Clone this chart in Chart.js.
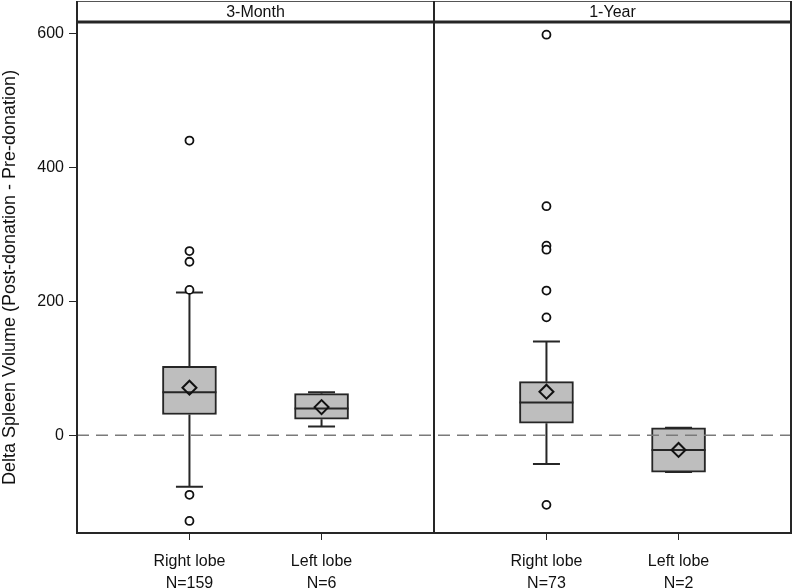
<!DOCTYPE html>
<html>
<head>
<meta charset="utf-8">
<script src="https://cdn.jsdelivr.net/npm/chart.js@4.4.0/dist/chart.umd.min.js"></script>
<style>
  html, body { margin: 0; padding: 0; background: #fff; }
  #wrap { width: 800px; height: 588px; }
</style>
</head>
<body>
<div id="wrap"><canvas id="c" width="800" height="588"></canvas></div>
<script>
// ---- data ----
const panelTitles = ['3-Month', '1-Year'];
const xPos = [0.315, 0.685, 1.315, 1.685];
const xLabels = [['Right lobe', 'N=159'], ['Left lobe', 'N=6'], ['Right lobe', 'N=73'], ['Left lobe', 'N=2']];
const q1 = [31, 24, 18, -55];
const median = [64, 40, 49, -22];
const q3 = [103, 62, 80, 11];
const whiskerLow = [-77, 13, -43, -55];
const whiskerHigh = [213, 64, 140, 11];
const mean = [71, 42, 65, -22];
const outliers = [
  [440, 275, 259, 217, -89, -128],
  [],
  [598, 342, 283, 277, 216, 176, -104],
  []
];
const yTicks = [0, 200, 400, 600];
const yMin = -146, yMax = 617;
const yTitle = 'Delta Spleen Volume (Post-donation - Pre-donation)';

const FONT = "'Liberation Sans', Arial, sans-serif";
const INK = '#262626';

const boxData = xPos.map((x, i) => ({ x: x, y: [q1[i], q3[i]] }));
const outlierData = [];
outliers.forEach((arr, i) => arr.forEach(v => outlierData.push({ x: xPos[i], y: v })));
const meanData = xPos.map((x, i) => ({ x: x, y: mean[i] }));

const boxPlugin = {
  id: 'boxParts',
  afterDatasetDraw(chart, args) {
    if (args.index !== 0) return;
    const ctx = chart.ctx;
    const xs = chart.scales.x, ys = chart.scales.y;
    ctx.save();
    ctx.strokeStyle = INK;
    ctx.lineWidth = 2;
    const capHalf = 13.5, boxHalf = 27;
    xPos.forEach((xv, i) => {
      const px = xs.getPixelForValue(xv);
      const yq1 = ys.getPixelForValue(q1[i]);
      const yq3 = ys.getPixelForValue(q3[i]);
      const ylo = ys.getPixelForValue(whiskerLow[i]);
      const yhi = ys.getPixelForValue(whiskerHigh[i]);
      const ymed = ys.getPixelForValue(median[i]);
      ctx.beginPath();
      ctx.moveTo(px, yq3); ctx.lineTo(px, yhi);
      ctx.moveTo(px - capHalf, yhi); ctx.lineTo(px + capHalf, yhi);
      ctx.moveTo(px, yq1); ctx.lineTo(px, ylo);
      ctx.moveTo(px - capHalf, ylo); ctx.lineTo(px + capHalf, ylo);
      ctx.moveTo(px - boxHalf, ymed); ctx.lineTo(px + boxHalf, ymed);
      ctx.stroke();
    });
    ctx.restore();
  },
  afterDraw(chart) {
    const ctx = chart.ctx;
    const a = chart.chartArea;
    const xs = chart.scales.x;
    const mid = xs.getPixelForValue(1);
    ctx.save();
    // header box
    ctx.fillStyle = '#fff';
    ctx.fillRect(a.left, 1, a.right - a.left, a.top - 1);
    ctx.strokeStyle = '#555';
    ctx.lineWidth = 1;
    ctx.strokeRect(a.left + 0.5, 1.5, a.right - a.left - 1, a.top - 1.5);
    // frame
    ctx.strokeStyle = INK;
    ctx.lineWidth = 2;
    ctx.beginPath();
    ctx.moveTo(a.left, 1); ctx.lineTo(a.left, a.bottom);
    ctx.lineTo(a.right, a.bottom); ctx.lineTo(a.right, 1);
    ctx.moveTo(mid, 1); ctx.lineTo(mid, a.bottom);
    ctx.stroke();
    ctx.lineWidth = 3;
    ctx.beginPath();
    ctx.moveTo(a.left, a.top); ctx.lineTo(a.right, a.top);
    ctx.stroke();
    // titles
    ctx.fillStyle = '#111';
    ctx.font = '16px ' + FONT;
    ctx.textAlign = 'center';
    ctx.textBaseline = 'middle';
    ctx.fillText(panelTitles[0], (a.left + mid) / 2, 12.5);
    ctx.fillText(panelTitles[1], (mid + a.right) / 2, 12.5);
    ctx.restore();
  }
};

new Chart(document.getElementById('c'), {
  type: 'bar',
  data: {
    datasets: [
      {
        type: 'bar',
        data: boxData,
        backgroundColor: '#bebebe',
        borderColor: INK,
        borderWidth: 2,
        borderSkipped: false,
        barThickness: 54,
        grouped: false,
        order: 3
      },
      {
        type: 'line',
        data: [{ x: 0, y: 0 }, { x: 2, y: 0 }],
        borderColor: '#7a7a7a',
        borderWidth: 1.5,
        borderDash: [12, 7],
        pointRadius: 0,
        fill: false,
        order: 2
      },
      {
        type: 'scatter',
        data: outlierData,
        pointStyle: 'circle',
        pointRadius: 4,
        pointBackgroundColor: '#fff',
        pointBorderColor: '#111',
        pointBorderWidth: 1.8,
        order: 1
      },
      {
        type: 'scatter',
        data: meanData,
        pointStyle: 'rectRot',
        pointRadius: 7,
        pointBackgroundColor: 'rgba(0,0,0,0)',
        pointBorderColor: '#111',
        pointBorderWidth: 2,
        order: 0
      }
    ]
  },
  options: {
    responsive: false,
    animation: false,
    layout: { padding: { top: 22, right: 2, left: 0, bottom: 0 } },
    plugins: { legend: { display: false }, tooltip: { enabled: false } },
    scales: {
      x: {
        type: 'linear',
        min: 0,
        max: 2,
        offset: false,
        afterBuildTicks: s => { s.ticks = xPos.map(v => ({ value: v })); },
        afterFit: s => { s.height = 55; },
        grid: { drawOnChartArea: false, drawTicks: true, tickLength: 7, color: INK, lineWidth: 1, offset: false },
        border: { display: false },
        ticks: {
          autoSkip: false,
          maxRotation: 0,
          padding: 11,
          color: '#111',
          font: { family: FONT, size: 16, lineHeight: '22px' },
          callback: (v, i) => xLabels[i]
        }
      },
      y: {
        type: 'linear',
        min: yMin,
        max: yMax,
        afterBuildTicks: s => { s.ticks = yTicks.map(v => ({ value: v })); },
        afterFit: s => { s.width = 77; },
        grid: { drawOnChartArea: false, drawTicks: true, tickLength: 8, color: INK, lineWidth: 1 },
        border: { display: false },
        ticks: { padding: 5, color: '#111', font: { family: FONT, size: 16 } },
        title: { display: true, text: yTitle, color: '#111', font: { family: FONT, size: 18 }, padding: { top: -1, bottom: 0 } }
      }
    }
  },
  plugins: [boxPlugin]
});
</script>
</body>
</html>
